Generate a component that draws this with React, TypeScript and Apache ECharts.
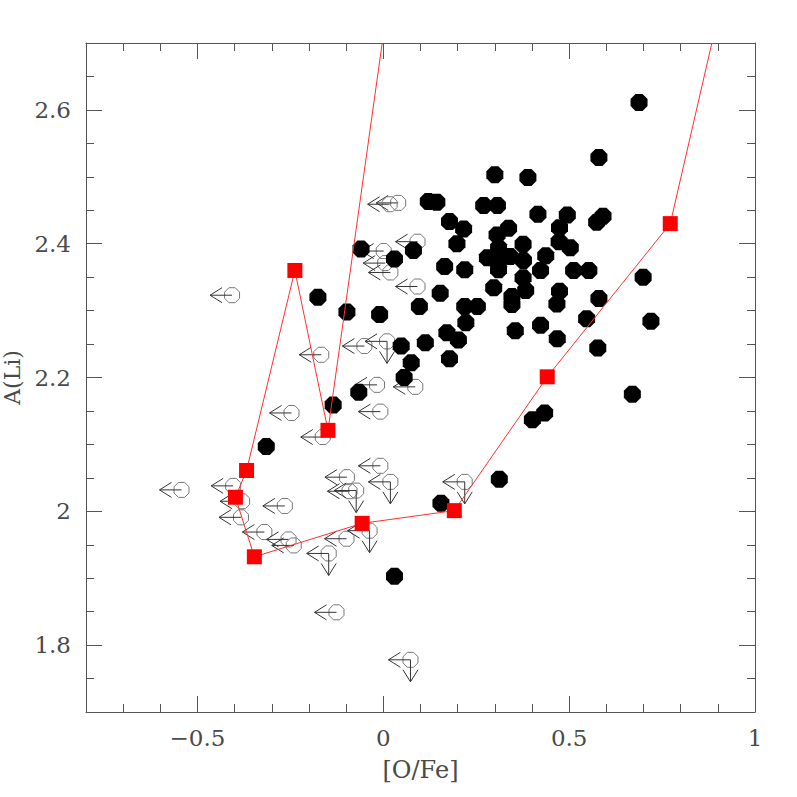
import React, { useEffect, useRef } from "react";
import * as echarts from "echarts";

// Detections: [ [O/Fe], A(Li) ]
const detections: number[][] = [
  [0.688, 2.611], [0.580, 2.529], [0.300, 2.503], [0.389, 2.499], [0.121, 2.463],
  [0.144, 2.462], [0.270, 2.457], [0.307, 2.457], [0.416, 2.444], [0.495, 2.443],
  [0.574, 2.432], [0.591, 2.441], [0.178, 2.433], [0.216, 2.422], [0.337, 2.423],
  [0.306, 2.413], [0.474, 2.424], [0.198, 2.400], [0.376, 2.399], [0.473, 2.403],
  [0.503, 2.394], [0.310, 2.394], [0.081, 2.390], [0.280, 2.379], [0.309, 2.372],
  [0.341, 2.381], [0.377, 2.375], [0.437, 2.382], [0.030, 2.377], [0.165, 2.366],
  [0.219, 2.361], [0.310, 2.361], [0.423, 2.360], [0.512, 2.360], [0.553, 2.360],
  [0.376, 2.349], [0.153, 2.326], [0.297, 2.334], [0.346, 2.321], [0.346, 2.309],
  [0.383, 2.330], [0.474, 2.329], [0.467, 2.310], [0.580, 2.318], [0.097, 2.306],
  [0.219, 2.306], [0.253, 2.306], [0.699, 2.350], [0.547, 2.288], [0.720, 2.284],
  [0.222, 2.282], [0.355, 2.270], [0.423, 2.278], [0.171, 2.267], [0.202, 2.256],
  [0.468, 2.258], [0.113, 2.252], [0.048, 2.247], [0.577, 2.244], [0.178, 2.228],
  [0.075, 2.222], [0.056, 2.200], [0.670, 2.175], [-0.060, 2.392], [-0.176, 2.320],
  [-0.098, 2.298], [-0.010, 2.294], [-0.066, 2.178], [-0.135, 2.159], [-0.315, 2.097],
  [0.030, 1.903], [0.401, 2.137], [0.434, 2.147], [0.312, 2.048], [0.155, 2.012],
];

// Upper limits: [ [O/Fe], A(Li), also-upper-limit-in-A(Li) (1) ]
const upperLimits: number[][] = [
  [0.040, 2.461, 0], [0.017, 2.459, 0], [0.092, 2.403, 0], [0.001, 2.389, 0],
  [0.005, 2.371, 0], [0.019, 2.357, 0], [0.092, 2.336, 0], [-0.051, 2.247, 0],
  [0.010, 2.254, 1], [-0.017, 2.189, 0], [0.086, 2.186, 0], [-0.167, 2.234, 0],
  [-0.247, 2.147, 0], [-0.407, 2.323, 0], [-0.008, 2.149, 0], [-0.163, 2.111, 0],
  [-0.008, 2.068, 0], [-0.098, 2.051, 0], [-0.091, 2.030, 0], [-0.073, 2.031, 1],
  [0.019, 2.044, 1], [-0.543, 2.032, 0], [-0.404, 2.038, 0], [-0.380, 2.015, 0],
  [-0.383, 1.991, 0], [-0.265, 2.008, 0], [-0.320, 1.969, 0], [-0.255, 1.958, 0],
  [-0.241, 1.949, 0], [-0.099, 1.959, 0], [-0.037, 1.971, 1], [-0.147, 1.937, 1],
  [0.219, 2.044, 1], [-0.126, 1.849, 0], [0.073, 1.778, 1],
];

// Model track (line) and its marked points (squares)
const modelTrack: number[][] = [
  [-0.003, 2.70], [-0.149, 2.121], [-0.238, 2.360], [-0.368, 2.061], [-0.398, 2.021],
  [-0.347, 1.932], [-0.057, 1.982], [0.191, 2.001], [0.441, 2.201], [0.772, 2.430],
  [0.884, 2.70],
];
const modelSquares: number[][] = [
  [-0.238, 2.360], [-0.149, 2.121], [-0.368, 2.061], [-0.398, 2.021], [-0.347, 1.932],
  [-0.057, 1.982], [0.191, 2.001], [0.441, 2.201], [0.772, 2.430],
];

const X_MIN = -0.8, X_MAX = 1.0, X_MINOR = 0.1;
const Y_MIN = 1.7, Y_MAX = 2.7, Y_MINOR = 0.05;
const X_MAJOR = [-0.5, 0, 0.5, 1];
const Y_MAJOR = [1.8, 2, 2.2, 2.4, 2.6];

const FONT = "DejaVu Serif";
const AXIS_COLOR = "#555";
const TEXT_COLOR = "#4a4a4a";
const OCT = "path://M-0.383,-0.924L0.383,-0.924L0.924,-0.383L0.924,0.383L0.383,0.924L-0.383,0.924L-0.924,0.383L-0.924,-0.383Z";

function octagon(cx: number, cy: number, r: number): number[][] {
  const pts: number[][] = [];
  for (let i = 0; i < 8; i++) {
    const a = Math.PI / 8 + (i * Math.PI) / 4;
    pts.push([cx + r * Math.cos(a), cy + r * Math.sin(a)]);
  }
  return pts;
}

const fmt = (v: number) => (v < 0 ? "\u2212" + String(Math.abs(v)) : String(v));

function xAxis(position: "bottom" | "top", major: boolean, withLabels: boolean): any {
  const lineStyle = { color: AXIS_COLOR, width: 1 };
  const a: any = {
    type: "value",
    min: X_MIN,
    max: X_MAX,
    interval: X_MINOR,
    position,
    axisLine: { show: !major, onZero: false, lineStyle },
    splitLine: { show: false },
    axisTick: major
      ? { show: true, inside: true, length: 16, customValues: X_MAJOR, lineStyle }
      : { show: true, inside: true, length: 8, lineStyle },
    axisLabel: withLabels
      ? { show: true, customValues: X_MAJOR, formatter: fmt, margin: 14, fontFamily: FONT, fontSize: 23, color: TEXT_COLOR }
      : { show: false },
  };
  if (withLabels) {
    a.name = "[O/Fe]";
    a.nameLocation = "middle";
    a.nameGap = 46;
    a.nameTextStyle = { fontFamily: FONT, fontSize: 24, color: TEXT_COLOR };
  }
  return a;
}

function yAxis(position: "left" | "right", major: boolean, withLabels: boolean): any {
  const lineStyle = { color: AXIS_COLOR, width: 1 };
  const a: any = {
    type: "value",
    min: Y_MIN,
    max: Y_MAX,
    interval: Y_MINOR,
    position,
    axisLine: { show: !major, onZero: false, lineStyle },
    splitLine: { show: false },
    axisTick: major
      ? { show: true, inside: true, length: 16, customValues: Y_MAJOR, lineStyle }
      : { show: true, inside: true, length: 8, lineStyle },
    axisLabel: withLabels
      ? { show: true, customValues: Y_MAJOR, margin: 15, fontFamily: FONT, fontSize: 23, color: TEXT_COLOR }
      : { show: false },
  };
  if (withLabels) {
    a.name = "A(Li)";
    a.nameLocation = "middle";
    a.nameGap = 50;
    a.nameTextStyle = { fontFamily: FONT, fontSize: 22, color: TEXT_COLOR };
  }
  return a;
}

export default function App() {
  const ref = useRef<HTMLDivElement>(null);

  useEffect(() => {
    if (!ref.current) return;
    const chart = echarts.init(ref.current, null, { renderer: "svg" });
    const option: any = {
      animation: false,
      backgroundColor: "#ffffff",
      grid: { left: 86, top: 43, width: 669, height: 669, containLabel: false, outerBoundsMode: "none" },
      xAxis: [
        xAxis("bottom", false, false),
        xAxis("bottom", true, true),
        xAxis("top", false, false),
        xAxis("top", true, false),
      ],
      yAxis: [
        yAxis("left", false, false),
        yAxis("left", true, true),
        yAxis("right", false, false),
        yAxis("right", true, false),
      ],
      series: [
        {
          type: "custom",
          xAxisIndex: 0,
          yAxisIndex: 0,
          clip: true,
          data: upperLimits,
          renderItem: (params: any, api: any) => {
            const p = api.coord([api.value(0), api.value(1)]);
            const cx = p[0], cy = p[1];
            const down = api.value(2);
            const arrow = { stroke: "#333", lineWidth: 1, fill: "none" };
            const children: any[] = [
              { type: "polygon", shape: { points: octagon(cx, cy, 8.1) }, style: { fill: "none", stroke: "#777", lineWidth: 1 } },
              { type: "line", shape: { x1: cx, y1: cy, x2: cx - 22, y2: cy }, style: arrow },
              { type: "polyline", shape: { points: [[cx - 10, cy - 7.5], [cx - 22, cy], [cx - 10, cy + 7.5]] }, style: arrow },
            ];
            if (down) {
              children.push(
                { type: "line", shape: { x1: cx, y1: cy, x2: cx, y2: cy + 22 }, style: arrow },
                { type: "polyline", shape: { points: [[cx - 7.5, cy + 10], [cx, cy + 22], [cx + 7.5, cy + 10]] }, style: arrow },
              );
            }
            return { type: "group", children };
          },
          z: 2,
        },
        {
          type: "scatter",
          xAxisIndex: 0,
          yAxisIndex: 0,
          data: detections,
          symbol: OCT,
          symbolSize: 17,
          itemStyle: { color: "#000", opacity: 1 },
          z: 3,
        },
        {
          type: "line",
          xAxisIndex: 0,
          yAxisIndex: 0,
          data: modelTrack,
          showSymbol: false,
          symbol: "none",
          clip: true,
          lineStyle: { color: "#ff3030", width: 1 },
          z: 4,
        },
        {
          type: "scatter",
          xAxisIndex: 0,
          yAxisIndex: 0,
          data: modelSquares,
          symbol: "rect",
          symbolSize: 15,
          itemStyle: { color: "#ff0000", opacity: 1 },
          z: 5,
        },
      ],
    };
    chart.setOption(option);
    return () => chart.dispose();
  }, []);

  return (
    <div
      ref={ref}
      style={{ position: "absolute", left: 0, top: 0, width: 797, height: 797, background: "#fff" }}
    />
  );
}
